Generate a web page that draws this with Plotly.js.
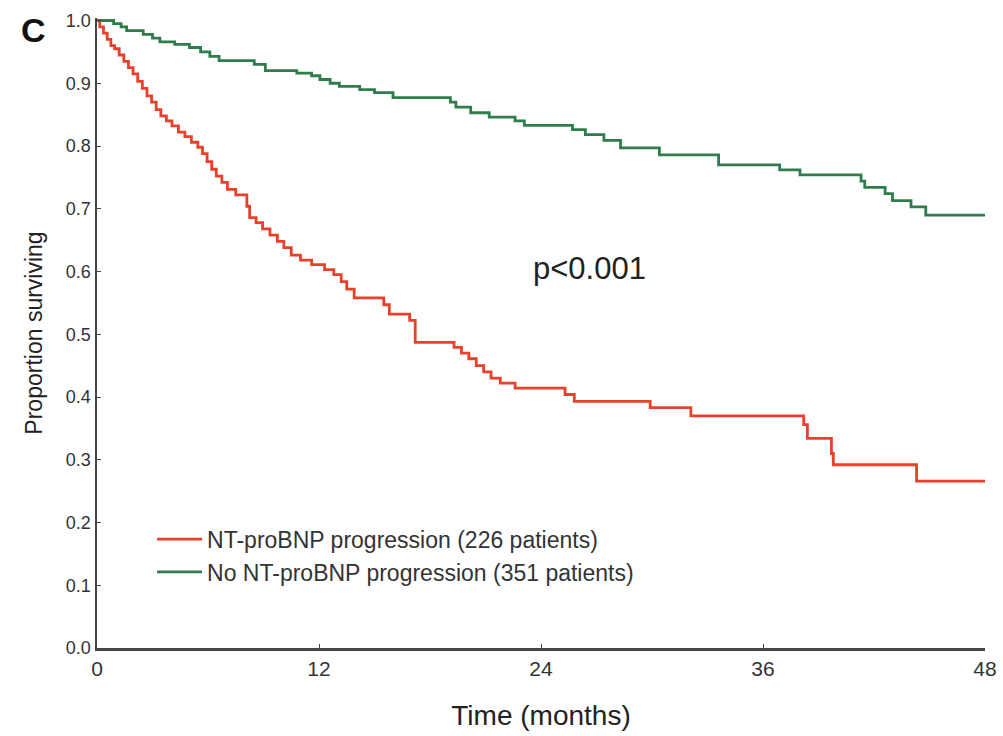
<!DOCTYPE html>
<html>
<head>
<meta charset="utf-8">
<script src="https://cdn.plot.ly/plotly-3.0.1.min.js"></script>
<style>html,body{margin:0;padding:0;background:#fff;}#chart{width:1003px;height:736px;}</style>
</head>
<body>
<div id="chart"></div>
<script>
// Kaplan-Meier curves (time in months, proportion surviving)
const progressionMonths = [0, 0.15, 0.35, 0.55, 0.75, 0.95, 1.2, 1.45, 1.7, 1.95, 2.2, 2.45, 2.7, 2.95, 3.2, 3.45, 3.75, 4.05, 4.4, 4.75, 5.1, 5.45, 5.7, 5.95, 6.2, 6.45, 6.75, 7.05, 7.5, 8.1, 8.25, 8.6, 8.95, 9.35, 9.75, 10.1, 10.5, 11.0, 11.6, 12.3, 12.8, 13.2, 13.5, 13.9, 15.5, 15.8, 16.9, 17.2, 19.3, 19.7, 20.1, 20.5, 20.9, 21.3, 21.8, 22.6, 25.3, 25.8, 29.9, 32.1, 38.2, 38.4, 39.7, 39.8, 44.3, 48];
const progressionSurv = [1.0, 0.99, 0.98, 0.97, 0.96, 0.955, 0.945, 0.935, 0.925, 0.915, 0.903, 0.892, 0.88, 0.87, 0.858, 0.848, 0.84, 0.832, 0.822, 0.815, 0.806, 0.798, 0.788, 0.775, 0.763, 0.752, 0.742, 0.731, 0.722, 0.704, 0.686, 0.678, 0.668, 0.658, 0.648, 0.638, 0.626, 0.618, 0.611, 0.603, 0.595, 0.584, 0.572, 0.558, 0.547, 0.532, 0.522, 0.487, 0.479, 0.47, 0.461, 0.45, 0.44, 0.43, 0.422, 0.414, 0.404, 0.393, 0.383, 0.37, 0.356, 0.334, 0.31, 0.292, 0.266, 0.266];

const noProgressionMonths = [0, 0.9, 1.3, 1.6, 2.5, 3.0, 3.4, 4.2, 5.0, 5.6, 6.1, 6.6, 8.5, 9.1, 10.8, 11.6, 12.05, 12.6, 13.1, 14.2, 15.0, 16.0, 19.1, 19.4, 20.2, 21.2, 22.6, 23.1, 25.7, 26.4, 27.4, 28.3, 30.4, 33.6, 36.9, 38.0, 41.3, 41.5, 42.6, 43.0, 44.0, 44.8, 48];
const noProgressionSurv = [1.0, 0.995, 0.99, 0.984, 0.978, 0.972, 0.966, 0.962, 0.957, 0.95, 0.943, 0.936, 0.93, 0.92, 0.916, 0.912, 0.906, 0.9, 0.895, 0.89, 0.885, 0.877, 0.87, 0.862, 0.853, 0.846, 0.84, 0.833, 0.826, 0.818, 0.809, 0.797, 0.786, 0.77, 0.762, 0.754, 0.744, 0.734, 0.724, 0.713, 0.703, 0.69, 0.69];

const seriesNames = ["NT-proBNP progression (226 patients)", "No NT-proBNP progression (351 patients)"];
const xTicks = [0, 12, 24, 36, 48];
const yTicks = [0, 0.1, 0.2, 0.3, 0.4, 0.5, 0.6, 0.7, 0.8, 0.9, 1.0];
const pLabel = "p<0.001";
const panelLabel = "C";

const FONT = "Arial, 'Liberation Sans', sans-serif";

const traces = [
  {x: progressionMonths, y: progressionSurv, name: seriesNames[0], type: "scatter", mode: "lines",
   line: {shape: "hv", color: "#e8412b", width: 2.8}},
  {x: noProgressionMonths, y: noProgressionSurv, name: seriesNames[1], type: "scatter", mode: "lines",
   line: {shape: "hv", color: "#2f7d4c", width: 2.8}}
];

const layout = {
  width: 1003, height: 736,
  margin: {l: 97, r: 18, t: 18, b: 88},
  paper_bgcolor: "#fff", plot_bgcolor: "#fff",
  font: {family: FONT, color: "#333"},
  showlegend: true,
  legend: {x: 0.062, y: 0.207, xanchor: "left", yanchor: "top", bgcolor: "rgba(0,0,0,0)",
           font: {size: 23, color: "#333", family: FONT}, traceorder: "normal", itemwidth: 45},
  xaxis: {range: [0, 48], tickvals: xTicks, ticktext: xTicks.map(String), showgrid: false, zeroline: false,
          showline: true, linecolor: "#444", linewidth: 2.5, ticks: "inside", ticklen: 4, tickcolor: "#444",
          tickfont: {size: 21, color: "#333"},
          title: {text: "Time (months)", font: {size: 28, color: "#222"}, standoff: 27}},
  yaxis: {range: [0, 1.004], tickvals: yTicks, tickformat: ".1f", showgrid: false, zeroline: false,
          showline: true, linecolor: "#444", linewidth: 2.5, ticks: "inside", ticklen: 4, tickcolor: "#444",
          tickfont: {size: 18, color: "#333"},
          title: {text: "Proportion surviving", font: {size: 23, color: "#222"}, standoff: 17}},
  annotations: [
    {text: pLabel, x: 26.6, y: 0.605, xref: "x", yref: "y", showarrow: false,
     font: {size: 31, color: "#222", family: FONT}},
    {text: "<b>" + panelLabel + "</b>", x: -0.071, y: 0.981, xref: "paper", yref: "paper",
     xanchor: "center", yanchor: "middle", showarrow: false,
     font: {size: 34, color: "#111", family: FONT}}
  ]
};

Plotly.newPlot("chart", traces, layout, {displayModeBar: false, staticPlot: true});
</script>
</body>
</html>
